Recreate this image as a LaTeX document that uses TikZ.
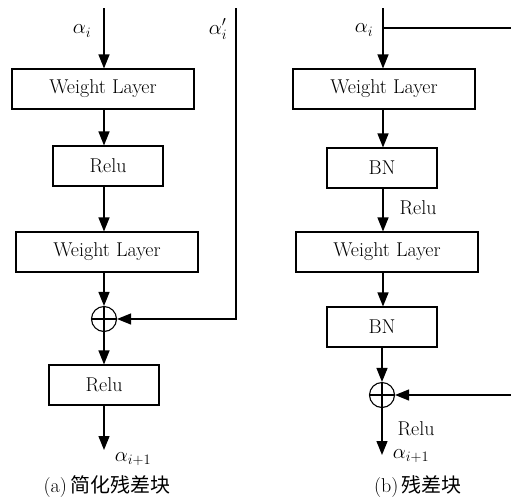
\documentclass[tikz,border=0pt]{standalone}
\usepackage{fontspec}
\newfontfamily\cjk{Noto Sans CJK SC}
\usetikzlibrary{arrows.meta,calc}
\begin{document}
\begin{tikzpicture}[x=1pt,y=-1pt,
  line width=1.3pt,
  every node/.style={font=\fontsize{20}{22}\selectfont\addfontfeatures{LetterSpace=3}},
  layer/.style={draw,line width=1.1pt,minimum height=40pt,inner sep=0pt},
  wide/.style={layer,minimum width=182pt},
  narrow/.style={layer,minimum width=110pt},
  sumnode/.style={circle,draw,line width=1.1pt,minimum size=25pt,inner sep=0pt,
    path picture={\draw[line width=1.1pt] (path picture bounding box.north) -- (path picture bounding box.south)
      (path picture bounding box.west) -- (path picture bounding box.east);}},
  arr/.style={-{Triangle[length=14pt,width=11pt]}},
  lbl/.style={inner sep=0pt},
  mlbl/.style={inner sep=0pt,font=\fontsize{20}{22}\selectfont},
  captext/.style={inner sep=0pt,font=\fontsize{20}{22}\selectfont}
]
\useasboundingbox (0,0) rectangle (511,499);
% ---------- panel (a) ----------
\coordinate (ta) at (104,8);
\node[wide]   (wl1)   at (103,89)  {Weight Layer};
\node[narrow] (relu1) at (108,166) {Relu};
\node[wide]   (wl2)   at (107,252) {Weight Layer};
\node[sumnode] (pa)   at (104,319) {};
\node[narrow] (relu2) at (104,385) {Relu};
\coordinate (oa) at (104,450);
\coordinate (ra) at (236,8);
\coordinate (ca) at (236,319);
\draw[arr] (ta) -- (wl1.north -| ta);
\draw[arr] (wl1.south -| ta) -- (relu1.north -| ta);
\draw[arr] (relu1.south -| ta) -- (wl2.north -| ta);
\draw[arr] (wl2.south -| ta) -- (pa);
\draw[arr] (pa) -- (relu2.north -| ta);
\draw[arr] (relu2.south -| ta) -- (oa);
\draw[arr] (ra) -- (ca) -- (pa);
\node[mlbl] (la)  at (82,31)  {$\alpha_i$};
\node[mlbl] (lap) at (218,29) {$\alpha_i'$};
\node[mlbl] (lao) at (133,459) {$\alpha_{i+1}$};
\node[captext] (capa) at (107,487) {(a)\,{\cjk 简化残差块}};
% ---------- panel (b) ----------
\coordinate (tb) at (383,8);
\coordinate (bb) at (383,28);
\coordinate (eb) at (511,28);
\node[wide]   (wl3) at (384,89)  {Weight Layer};
\node[narrow] (bn1) at (382,168) {BN};
\node[wide]   (wl4) at (387,252) {Weight Layer};
\node[narrow] (bn2) at (382,327) {BN};
\node[sumnode] (pb) at (382,395) {};
\coordinate (ob) at (382,455);
\coordinate (rb) at (511,395);
\draw (bb) -- (eb);
\draw[arr] (tb) -- (wl3.north -| tb);
\draw[arr] (wl3.south -| tb) -- (bn1.north -| tb);
\draw[arr] (bn1.south -| tb) -- (wl4.north -| tb);
\draw[arr] (wl4.south -| tb) -- (bn2.north -| tb);
\draw[arr] (bn2.south -| pb) -- (pb);
\draw[arr] (pb) -- (ob);
\draw[arr] (rb) -- (pb);
\node[mlbl] (lb)  at (364,30)  {$\alpha_i$};
\node[lbl] (rl1) at (418,208) {Relu};
\node[lbl] (rl2) at (416,429) {Relu};
\node[mlbl] (lbo) at (411,456) {$\alpha_{i+1}$};
\node[captext] (capb) at (418,487) {(b)\,{\cjk 残差块}};
\end{tikzpicture}
\end{document}
